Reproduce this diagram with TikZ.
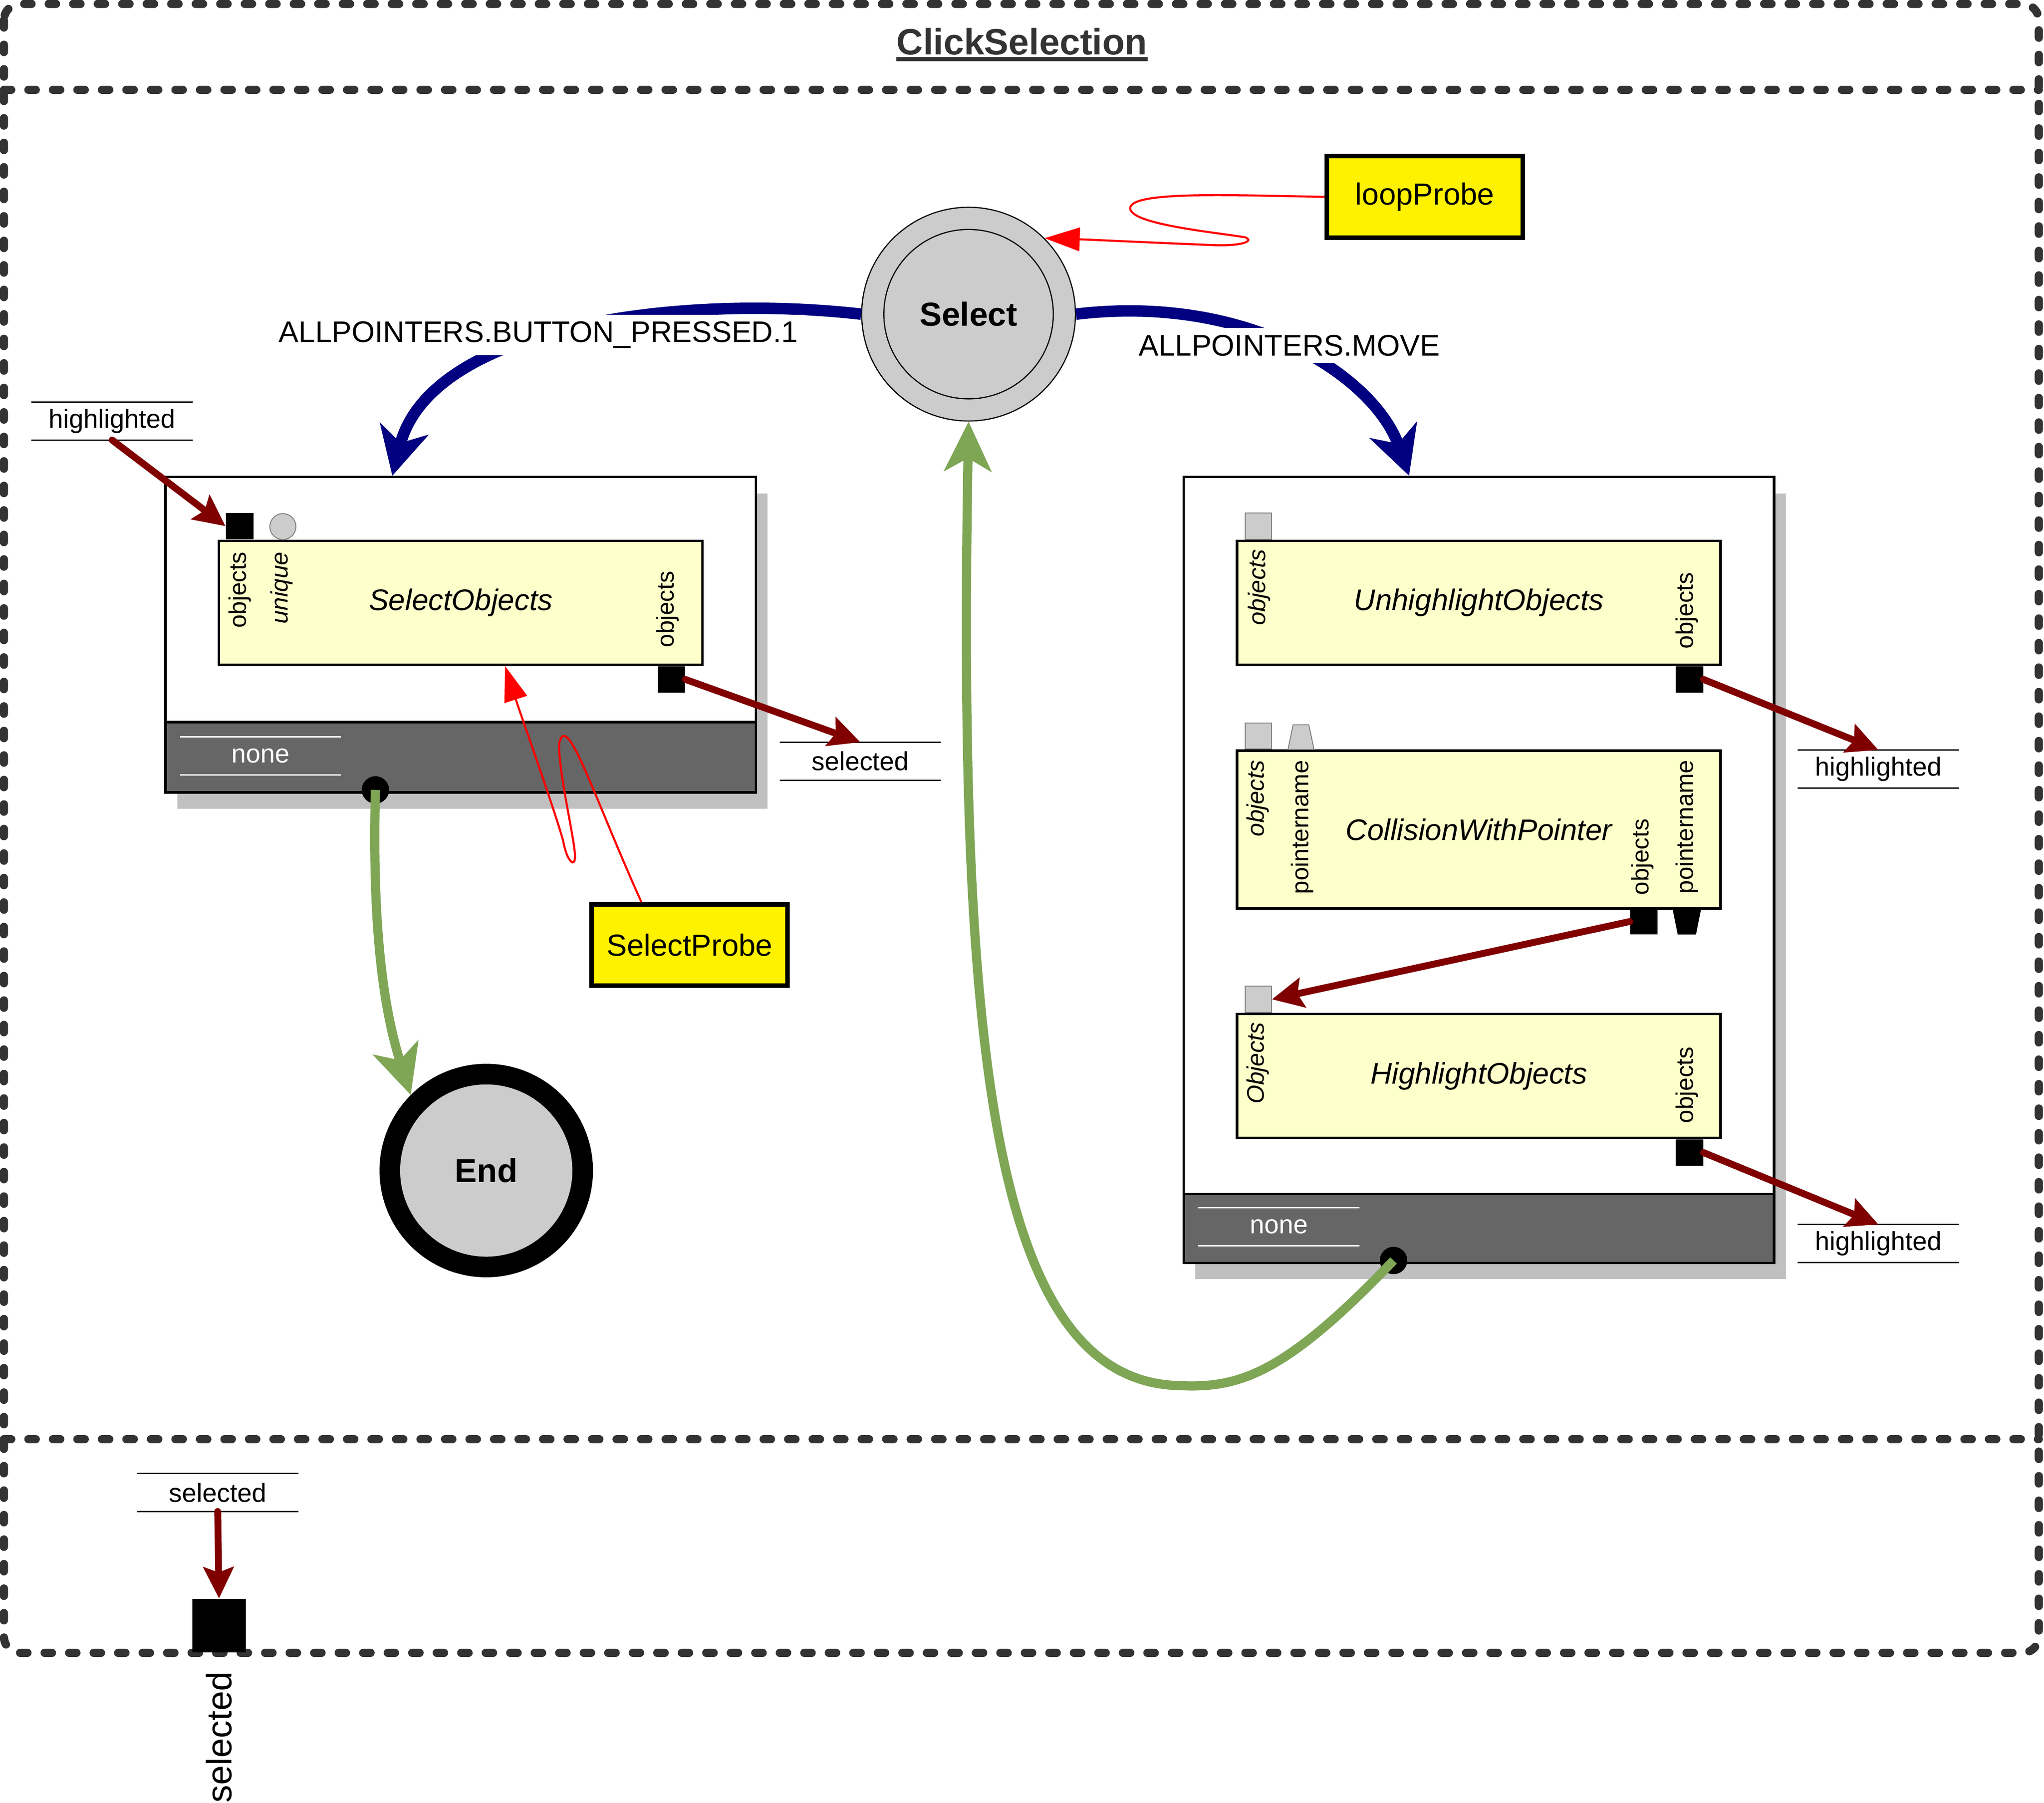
\documentclass[tikz,border=0pt]{standalone}
\usepackage{fontspec}
\setmainfont{Liberation Sans}
\usetikzlibrary{arrows.meta,positioning,shapes.geometric,shadows}

\definecolor{framegray}{HTML}{333333}
\definecolor{bandgray}{HTML}{666666}
\definecolor{shadowgray}{HTML}{C0C0C0}
\definecolor{stategray}{HTML}{CCCCCC}
\definecolor{actyellow}{HTML}{FFFFCC}
\definecolor{datared}{HTML}{800000}
\definecolor{transblue}{HTML}{000080}
\definecolor{endgreen}{HTML}{7EA655}

\tikzset{
  frameline/.style={draw=framegray,line width=3.6pt,dash pattern=on 3.2pt off 7.5pt,line cap=round},
  compbox/.style={draw,line width=1.1pt,fill=white,anchor=north west,inner sep=0pt,minimum width=9.06cm,
    drop shadow={shadow xshift=0.18cm,shadow yshift=-0.25cm,fill=shadowgray,opacity=1}},
  bandbox/.style={draw,line width=1.1pt,fill=bandgray,anchor=north west,inner sep=0pt,minimum width=9.06cm},
  actbox/.style={draw,line width=1.1pt,fill=actyellow,anchor=north west,inner sep=0pt,minimum width=7.42cm,
    font=\fontsize{13}{15}\selectfont\itshape},
  dataport/.style={fill=black,minimum width=0.42cm,minimum height=0.4cm,inner sep=0pt},
  emptyport/.style={fill=stategray,draw=gray,line width=0.4pt,minimum width=0.4cm,minimum height=0.4cm,inner sep=0pt},
  portlabel/.style={rotate=90,inner sep=0pt,font=\fontsize{10.5}{12}\selectfont},
  itport/.style={portlabel,font=\fontsize{10.5}{12}\selectfont\itshape},
  varlabel/.style={minimum width=2.46cm,minimum height=0.57cm,inner sep=0pt,font=\fontsize{11.4}{13}\selectfont,
    append after command={(\tikzlastnode.north west) edge[draw=#1,line width=0.6pt] (\tikzlastnode.north east)
      (\tikzlastnode.south west) edge[draw=#1,line width=0.6pt] (\tikzlastnode.south east)}},
  varlabel/.default=black,
  statenode/.style={circle,draw,line width=0.5pt,fill=stategray,minimum size=3.28cm,inner sep=0pt,
    font=\fontsize{14.5}{17}\selectfont\bfseries},
  endnode/.style={circle,draw,line width=9pt,fill=stategray,minimum size=2.96cm,inner sep=0pt,
    font=\fontsize{14.5}{17}\selectfont\bfseries},
  probebox/.style={draw,line width=2pt,fill=yellow,minimum width=3.01cm,minimum height=1.25cm,inner sep=0pt,
    font=\fontsize{13.3}{15}\selectfont},
  translabel/.style={fill=white,inner sep=3pt,font=\fontsize{13}{15}\selectfont},
  transarrow/.style={draw=transblue,line width=5pt,-{Stealth[length=0.74cm,width=0.76cm,inset=0.22cm]}},
  endtrans/.style={draw=endgreen,line width=4pt,-{Stealth[length=0.76cm,width=0.72cm,inset=0.2cm]}},
  dataflow/.style={draw=datared,line width=3pt,line cap=round,-{Stealth[length=0.48cm,width=0.46cm,inset=0.08cm]}},
  probeline/.style={draw=red,line width=0.9pt,-{Triangle[length=0.54cm,width=0.36cm]}},
  dotnode/.style={circle,fill=black,minimum size=0.42cm,inner sep=0pt}
}

\begin{document}
\begin{tikzpicture}[x=0.02cm,y=-0.02cm]
  \useasboundingbox (0,0) rectangle (1568,1383);
  % outer frame
  \draw[frameline,rounded corners=0.25cm] (3,3) rectangle (1564,1268);
  \draw[frameline] (3,69) -- (1564,69);
  \draw[frameline] (3,1104) -- (1564,1104);
  \node[font=\fontsize{16}{19}\selectfont\bfseries,text=framegray,inner sep=0pt,anchor=base] (clicksel) at (784,42) {ClickSelection};
  \draw[framegray,line width=1.7pt] ([yshift=-0.07cm]clicksel.base west) -- ([yshift=-0.07cm]clicksel.base east);

  % composite states
  \node[compbox,minimum height=4.84cm] (selbox) at (126,365) {};
  \node[bandbox,minimum height=1.08cm] (selband) at (126,553) {};
  \node[compbox,minimum height=12.06cm] (movebox) at (907,365) {};
  \node[bandbox,minimum height=1.06cm] (moveband) at (907,915) {};
  \node[varlabel=white,text=white] (nonel) at (200,580) {none};
  \node[varlabel=white,text=white] (noner) at (981,941) {none};
  \node[dotnode] (dotl) at (288,606) {};
  \node[dotnode] (dotr) at (1069,967) {};

  % SelectObjects
  \node[actbox,minimum height=1.9cm] (selobj) at (167,414) {SelectObjects};
  \node[dataport,anchor=south west] (selin) at ([xshift=0.12cm]selobj.north west) {};
  \node[emptyport,circle] (seluniq) at (217,404) {};
  \node[dataport,anchor=north east] (selout) at ([xshift=-0.28cm]selobj.south east) {};
  \node[portlabel,anchor=east] (sellblone) at (184,423) {objects};
  \node[itport,anchor=east] (sellbltwo) at (216,423) {unique};
  \node[portlabel,anchor=west] (sellblthree) at (512,497) {objects};

  % UnhighlightObjects
  \node[actbox,minimum height=1.9cm] (unhl) at (948,414) {UnhighlightObjects};
  \node[emptyport,anchor=south west] (unhlin) at ([xshift=0.14cm]unhl.north west) {};
  \node[dataport,anchor=north east] (unhlout) at ([xshift=-0.28cm]unhl.south east) {};
  \node[itport,anchor=east] (unhllblone) at (966,421) {objects};
  \node[portlabel,anchor=west] (unhllbltwo) at (1294,498) {objects};

  % CollisionWithPointer
  \node[actbox,minimum height=2.42cm] (coll) at (948,575) {CollisionWithPointer};
  \node[emptyport,anchor=south west] (collin) at ([xshift=0.14cm]coll.north west) {};
  \filldraw[fill=stategray,draw=gray,line width=0.4pt] (988,575) -- (992,556) -- (1004,556) -- (1008,575) -- cycle;
  \node[dataport] (collout) at (1261,707) {};
  \fill (1283,697) -- (1305,697) -- (1301,717) -- (1287,717) -- cycle;
  \node[itport,anchor=east] (colllblone) at (965,583) {objects};
  \node[portlabel,anchor=east] (colllbltwo) at (999,583) {pointername};
  \node[portlabel,anchor=west] (colllblthree) at (1260,687) {objects};
  \node[portlabel,anchor=west] (colllblfour) at (1294,686) {pointername};

  % HighlightObjects
  \node[actbox,minimum height=1.9cm] (hl) at (948,777) {HighlightObjects};
  \node[emptyport,anchor=south west] (hlin) at ([xshift=0.14cm]hl.north west) {};
  \node[dataport,anchor=north east] (hlout) at ([xshift=-0.28cm]hl.south east) {};
  \node[itport,anchor=east] (hllblone) at (965,784) {Objects};
  \node[portlabel,anchor=west] (hllbltwo) at (1294,862) {objects};

  % states and probes
  \node[statenode] (selectstate) at (743,241) {Select};
  \draw[line width=0.5pt] (selectstate.center) circle[radius=1.3cm];
  \node[endnode] (endstate) at (373,898) {End};
  \node[probebox] (looppr) at (1093,151) {loopProbe};
  \node[probebox] (selpr) at (529,725) {SelectProbe};

  % variables
  \node[varlabel] (taghl) at (86,323) {highlighted};
  \node[varlabel] (tagsel) at (660,584) {selected};
  \node[varlabel] (taghlone) at (1441,590) {highlighted};
  \node[varlabel] (taghltwo) at (1441,954) {highlighted};
  \node[varlabel] (tagout) at (167,1145) {selected};
  \node[fill=black,minimum size=0.82cm,inner sep=0pt,anchor=south] (outport) at (168,1268) {};
  \node[rotate=90,anchor=east,inner sep=0pt,font=\fontsize{15.4}{18}\selectfont] (outname) at (168,1282) {selected};

  % transitions
  \draw[transarrow] (selectstate.west) .. controls (520,225) and (330,250) .. ([xshift=-1.05cm]selbox.north);
  \draw[transarrow] (selectstate.east) .. controls (960,225) and (1055,290) .. ([xshift=-1.07cm]movebox.north);
  \draw[endtrans] (dotl.center) .. controls (285,720) and (296,780) .. (endstate.north west);
  \draw[endtrans] (dotr.center) .. controls (985,1055) and (950,1065) .. (905,1063)
    .. controls (760,1060) and (735,800) .. (selectstate.south);
  \node[translabel] (presslbl) at (413,257) {ALLPOINTERS.BUTTON\_PRESSED.1};
  \node[translabel] (movelbl) at (989,265) {ALLPOINTERS.MOVE};

  % data flow
  \draw[dataflow] (taghl.south) -- (selin.west);
  \draw[dataflow] (selout.east) -- (tagsel.north);
  \draw[dataflow] (unhlout.east) -- (taghlone.north);
  \draw[dataflow] (collout.west) -- (hlin.east);
  \draw[dataflow] (hlout.east) -- (taghltwo.north);
  \draw[dataflow] (tagout.south) -- (outport.north);

  % probes
  \draw[probeline] ([xshift=-0.74cm]selpr.north) .. controls (455,610) and (435,545) .. (429,570)
    .. controls (428,590) and (440,640) .. (441,655) .. controls (442,667) and (435,662) .. (432,645)
    .. controls (425,620) and (400,550) .. ([xshift=0.68cm]selobj.south);
  \draw[probeline] (looppr.west) .. controls (950,150) and (866,146) .. (867,160)
    .. controls (868,172) and (930,178) .. (955,182) .. controls (963,185) and (952,189) .. (930,188)
    .. controls (880,186) and (840,184) .. (selectstate.north east);
\end{tikzpicture}
\end{document}
